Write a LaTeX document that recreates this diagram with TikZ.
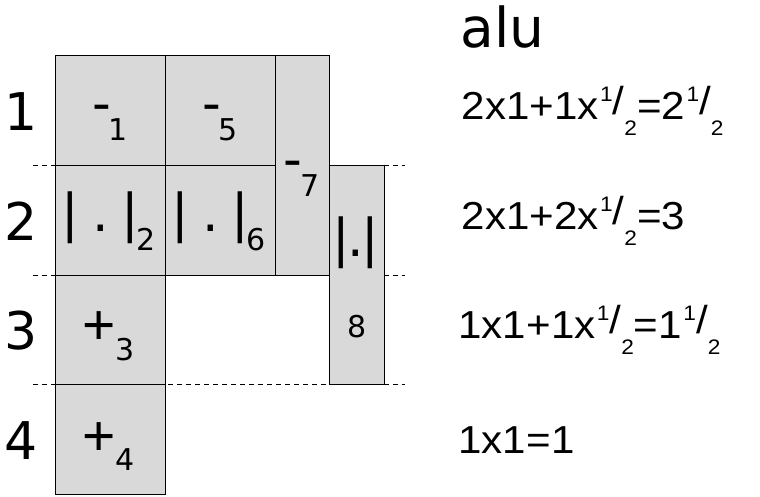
\documentclass[tikz,border=0pt]{standalone}
\usepackage{fontspec}
\setmainfont{DejaVu Sans}
\newfontfamily\eqfont{Liberation Sans}[FakeStretch=1.08]
\newfontfamily\plusfont{Liberation Sans}
\usetikzlibrary{fit}
\definecolor{boxgray}{RGB}{217,217,217}
\newcommand\bigsz{\fontsize{52}{52}\selectfont}
\newcommand\subsz{\fontsize{30}{30}\selectfont}
\newcommand\lsub[2][19pt]{\raisebox{-#1}{\subsz #2}}
\newcommand\absv[1]{|\kern13pt.\kern13pt|\kern-3pt\lsub{#1}}
\newcommand\hyph[1]{-\kern-2.4pt\lsub{#1}}
\newcommand\plussub[1]{{\plusfont\fontsize{57}{57}\selectfont +}\lsub[15.5pt]{#1}}
\newcommand\eqsz{\fontsize{39}{39}\selectfont}
\newcommand\fracsz{\fontsize{21}{21}\selectfont}
\newcommand\half{\kern1.5pt\raisebox{18pt}{\fracsz 1}\raisebox{5pt}{/}\raisebox{-16pt}{\fracsz 2}}
\begin{document}
\begin{tikzpicture}[x=1pt,y=-1pt,
  cell/.style={draw=black, line width=1pt, fill=boxgray, inner sep=0pt, outer sep=0pt},
  guide/.style={draw=black, line width=0.9pt, dash pattern=on 5pt off 4pt},
  lbl/.style={font=\bigsz, inner sep=0pt, anchor=base},
  lblw/.style={font=\bigsz, inner sep=0pt, anchor=base west},
  eq/.style={font=\eqfont\eqsz, inner sep=0pt, anchor=base west}]
\useasboundingbox (0,0) rectangle (760,496);
% guide lines
\coordinate (g1l) at (33,165.3); \coordinate (g1r) at (405,165.3);
\coordinate (g2l) at (33,275.3); \coordinate (g2r) at (405,275.3);
\coordinate (g3l) at (33,384.3); \coordinate (g3r) at (405,384.3);
\draw[guide] (g1l) -- (g1r);
\draw[guide] (g2l) -- (g2r);
\draw[guide] (g3l) -- (g3r);
% cells
\node[cell, fit={(55.3,55) (165.3,165.3)}] (b1) {};
\node[cell, fit={(165.3,55) (275.3,165.3)}] (b5) {};
\node[cell, fit={(275.3,55) (329.7,275.3)}] (b7) {};
\node[cell, fit={(55.3,165.3) (165.3,275.3)}] (b2) {};
\node[cell, fit={(165.3,165.3) (275.3,275.3)}] (b6) {};
\node[cell, fit={(329.7,165.3) (384.3,384.3)}] (b8) {};
\node[cell, fit={(55.3,275.3) (165.3,384.3)}] (b3) {};
\node[cell, fit={(55.3,384.3) (165.3,494.3)}] (b4) {};
% cell labels
\node[lblw] (t1) at (92,121) {\hyph{1}};
\node[lblw] (t5) at (202,121) {\hyph{5}};
\node[lblw] (t7) at (283.7,177) {\hyph{7}};
\node[lblw] (t2) at (61.7,231) {\absv{2}};
\node[lblw] (t6) at (171.7,231) {\absv{6}};
\node[lblw] (t8) at (332.7,256) {|\kern-2.5pt.\kern-2.5pt|};
\node[lbl, font=\subsz] (n8) at (357,337) {8};
\node[lblw] (t3) at (82.5,344.5) {\plussub{3}};
\node[lblw] (t4) at (82.5,455) {\plussub{4}};
% row labels
\node[lbl] (r1) at (21.5,130) {1};
\node[lbl] (r2) at (21.5,240) {2};
\node[lbl] (r3) at (21.5,349.5) {3};
\node[lbl] (r4) at (21.5,459) {4};
% right column
\node[font=\fontsize{55}{55}\selectfont, inner sep=0pt, anchor=base west] (alu) at (460.5,47) {alu};
\node[eq] (e1) at (461.4,119.5) {2x1+1x\half=2\half};
\node[eq] (e2) at (461.4,229.5) {2x1+2x\half=3};
\node[eq] (e3) at (458.3,338) {1x1+1x\half=1\half};
\node[eq] (e4) at (458.3,453) {1x1=1};
\end{tikzpicture}
\end{document}
